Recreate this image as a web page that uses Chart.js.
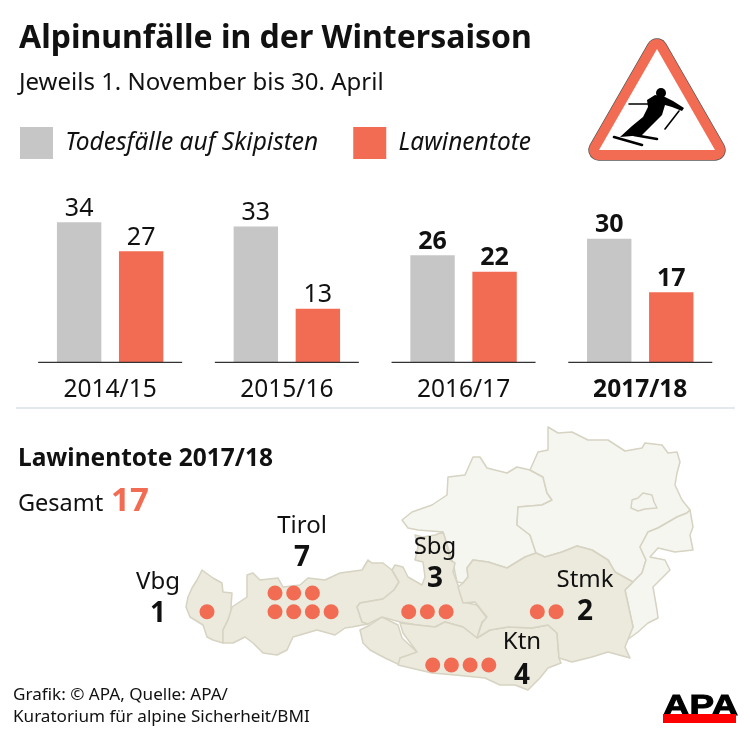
<!DOCTYPE html>
<html>
<head>
<meta charset="utf-8">
<title>Alpinunfälle</title>
<script src="https://cdn.jsdelivr.net/npm/chart.js@4"></script>
<style>
  html, body { margin: 0; padding: 0; background: #fff; }
  #page { position: relative; width: 750px; height: 736px; overflow: hidden; }
  canvas { position: absolute; left: 0; }
  #barCanvas { top: 0; }
  #mapCanvas { top: 410px; }
</style>
</head>
<body>
<div id="page">
  <canvas id="barCanvas" width="750" height="410"></canvas>
  <canvas id="mapCanvas" width="750" height="326"></canvas>
</div>
<script>
const seasons = ["2014/15", "2015/16", "2016/17", "2017/18"];
const pisteDeaths = [34, 33, 26, 30];
const avalancheDeaths = [27, 13, 22, 17];

const regions = ["Vbg", "Tirol", "Sbg", "Stmk", "Ktn"];
const regionDeaths = [1, 7, 3, 2, 4];
const totalDeaths = 17;

const FONT = '"Noto Sans", sans-serif';
const RED = "#f26c53";
const GRAY = "#c6c6c6";
const INK = "#111111";

// map drawing, in page pixels (the map chart's scales run over page coordinates)
const regionLayout = {
  Vbg: { dot: [207, 611.7], name: [158, 589], num: [158, 622] },
  Tirol: { dot: [275, 611.7], name: [302, 533], num: [302, 566] },
  Sbg: { dot: [408.7, 611.7], name: [435, 554], num: [435, 587] },
  Stmk: { dot: [537.3, 611.7], name: [585, 587], num: [585, 620] },
  Ktn: { dot: [432.7, 665], name: [522, 649], num: [522, 684] },
};
const dotStep = 18.7;

const shapesLight = [
  // Oberoesterreich
  [[402,520],[412,512],[432,505],[447,495],[448,477],[465,475],[473,457],[480,457],[487,468],[507,473],[517,467],[530,470],[543,477],[547,493],[552,500],[542,505],[518,507],[517,525],[530,535],[536,553],[525,557],[507,568],[488,562],[473,560],[467,568],[468,577],[463,583],[457,582],[453,563],[443,532],[418,530],[408,528]],
  // Niederoesterreich
  [[530,470],[538,452],[548,450],[548,427],[558,433],[572,432],[588,440],[608,440],[625,451],[642,448],[645,443],[662,445],[668,453],[677,452],[680,462],[677,473],[675,485],[682,500],[690,510],[687,513],[677,517],[658,528],[648,532],[640,547],[646,560],[642,573],[633,582],[615,572],[608,560],[592,550],[577,546],[562,552],[545,557],[536,553],[530,535],[517,525],[518,507],[542,505],[552,500],[547,493],[543,477]],
  // Wien
  [[632,500],[638,498],[643,493],[652,495],[654,502],[657,508],[645,509],[638,511],[631,508]],
  // Burgenland
  [[690,510],[693,527],[690,535],[693,550],[675,552],[658,548],[650,557],[665,560],[670,570],[662,578],[653,587],[657,610],[658,618],[648,623],[638,632],[627,640],[633,627],[625,590],[633,582],[642,573],[646,560],[640,547],[648,532],[658,528],[677,517],[687,513]],
];
const shapesDark = [
  // Vorarlberg
  [[202,570],[213,578],[222,583],[223,592],[232,593],[231,607],[232,612],[228,620],[223,630],[223,643],[213,640],[207,637],[203,625],[190,617],[186,607],[188,597],[192,588],[197,580]],
  // Tirol
  [[232,607],[247,597],[247,575],[253,573],[260,580],[278,578],[283,587],[300,585],[308,578],[325,580],[340,573],[362,570],[368,560],[372,563],[383,563],[392,570],[399,582],[394,590],[383,599],[360,603],[357,607],[362,622],[368,624],[352,627],[345,628],[335,635],[317,630],[293,637],[287,650],[277,655],[263,653],[253,643],[245,637],[233,643],[223,643],[223,630],[228,620]],
  // Osttirol
  [[360,630],[370,625],[382,617],[398,625],[402,638],[418,653],[400,658],[400,665],[385,658],[370,650],[363,643]],
  // Salzburg
  [[392,570],[395,565],[403,567],[408,577],[422,585],[425,577],[423,562],[415,560],[418,547],[415,535],[423,537],[435,535],[443,532],[445,538],[450,560],[455,563],[453,572],[458,585],[463,602],[477,605],[487,618],[482,622],[477,638],[463,627],[445,622],[435,627],[417,625],[400,622],[382,617],[368,624],[362,622],[357,607],[360,603],[383,599],[394,590],[399,582]],
  // Kaernten
  [[477,638],[490,630],[508,627],[532,628],[548,625],[557,633],[559,658],[561,663],[548,668],[540,678],[528,690],[515,685],[500,685],[485,678],[455,675],[432,673],[398,665],[400,658],[417,652],[403,633],[400,623],[417,625],[435,627],[445,622],[463,627]],
  // Steiermark
  [[458,587],[463,603],[475,602],[487,617],[482,623],[477,638],[490,630],[508,627],[532,628],[548,625],[557,633],[559,658],[572,662],[592,657],[608,652],[630,658],[625,647],[633,627],[625,590],[633,582],[615,572],[608,560],[592,550],[577,546],[562,552],[545,557],[536,553],[525,557],[507,568],[488,562],[473,560],[467,568],[468,577],[463,583]],
];

// one dot per death, four to a row, filling upwards
function buildDots() {
  const dots = [];
  regions.forEach((name, r) => {
    const anchor = regionLayout[name].dot;
    for (let i = 0; i < regionDeaths[r]; i++) {
      dots.push({ x: anchor[0] + (i % 4) * dotStep, y: anchor[1] - Math.floor(i / 4) * dotStep });
    }
  });
  return dots;
}

function polygon(ctx, pts) {
  ctx.beginPath();
  pts.forEach((p, i) => (i ? ctx.lineTo(p[0], p[1]) : ctx.moveTo(p[0], p[1])));
  ctx.closePath();
}

function drawSign(ctx) {
  ctx.save();
  ctx.lineJoin = "round";
  const tri = [[657, 49], [599, 150], [715, 150]];
  polygon(ctx, tri);
  ctx.strokeStyle = "#555";
  ctx.lineWidth = 21.5;
  ctx.stroke();
  ctx.strokeStyle = RED;
  ctx.lineWidth = 20;
  ctx.stroke();
  ctx.fillStyle = "#fff";
  ctx.fill();
  // skier
  ctx.fillStyle = "#000";
  ctx.strokeStyle = "#000";
  ctx.beginPath();
  ctx.arc(661, 93, 5, 0, Math.PI * 2);
  ctx.fill();
  polygon(ctx, [[647,100],[655,95],[665,97],[673,101],[684,108],[682,111],[672,107],[665,105],[662,115],[652,125],[642,135],[632,136],[620,137],[632,126],[643,117],[648,107]]);
  ctx.fill();
  ctx.lineCap = "round";
  ctx.lineWidth = 2.6;
  ctx.beginPath();
  ctx.moveTo(614, 137); ctx.lineTo(642, 145);
  ctx.moveTo(634, 135); ctx.lineTo(657, 139);
  ctx.stroke();
  ctx.lineWidth = 1.6;
  ctx.beginPath();
  ctx.moveTo(629, 104); ctx.lineTo(648, 104);
  ctx.moveTo(679, 111); ctx.lineTo(665, 129);
  ctx.stroke();
  ctx.restore();
}

const barDecor = {
  id: "barDecor",
  afterLayout(chart) {
    // legend sits under the subtitle, pulled left to the page margin
    const pad = chart.options.plugins.legend.labels.padding;
    chart.legend.left = 20 - pad;
    chart.legend.top = 127 - pad;
  },
  afterDatasetsDraw(chart) {
    const { ctx, scales } = chart;
    const base = scales.y.getPixelForValue(0);
    ctx.save();
    // baseline under each group
    ctx.strokeStyle = "#333";
    ctx.lineWidth = 1.3;
    seasons.forEach((s, i) => {
      const cx = scales.x.getPixelForValue(i);
      ctx.beginPath();
      ctx.moveTo(cx - 72, base);
      ctx.lineTo(cx + 72, base);
      ctx.stroke();
    });
    // value labels, last two seasons are set bold
    ctx.fillStyle = INK;
    ctx.textAlign = "center";
    ctx.textBaseline = "alphabetic";
    chart.data.datasets.forEach((ds, d) => {
      chart.getDatasetMeta(d).data.forEach((bar, i) => {
        ctx.font = (i >= 2 ? "bold " : "") + "25px " + FONT;
        ctx.fillText(String(ds.data[i]), bar.x, bar.y - 6.5);
      });
    });
    // separator above the map
    ctx.strokeStyle = "#e3eaee";
    ctx.lineWidth = 2;
    ctx.beginPath();
    ctx.moveTo(16, 408);
    ctx.lineTo(735, 408);
    ctx.stroke();
    drawSign(ctx);
    ctx.restore();
  },
};

new Chart(document.getElementById("barCanvas"), {
  type: "bar",
  data: {
    labels: seasons,
    datasets: [
      { label: "Todesfälle auf Skipisten", data: pisteDeaths, backgroundColor: GRAY, borderWidth: 0 },
      { label: "Lawinentote", data: avalancheDeaths, backgroundColor: RED, borderWidth: 0 },
    ],
  },
  options: {
    responsive: false,
    animation: false,
    categoryPercentage: 0.702,
    barPercentage: 0.716,
    layout: { padding: { top: 20, left: 19, right: 21.4, bottom: 0 } },
    plugins: {
      title: {
        display: true,
        text: "Alpinunfälle in der Wintersaison",
        align: "start",
        color: INK,
        font: { family: FONT, size: 32, weight: "bold" },
        padding: { top: 0, bottom: 0 },
      },
      subtitle: {
        display: true,
        text: "Jeweils 1. November bis 30. April",
        align: "start",
        color: INK,
        font: { family: FONT, size: 24 },
        padding: { top: 10, bottom: 0 },
      },
      legend: {
        display: true,
        position: "top",
        align: "start",
        labels: {
          boxWidth: 33,
          boxHeight: 32,
          padding: 35,
          color: INK,
          font: { family: FONT, size: 24.5, style: "italic" },
        },
      },
      tooltip: { enabled: false },
    },
    scales: {
      x: {
        grid: { display: false, drawTicks: false },
        border: { display: false },
        ticks: {
          padding: 13,
          color: INK,
          maxRotation: 0,
          font: (c) => ({ family: FONT, size: 24.5, weight: c.index === 3 ? "bold" : "normal" }),
        },
        afterFit(s) { s.height = 47.7; },
      },
      y: {
        min: 0,
        max: 45.7,
        grid: { display: false },
        border: { display: false },
        ticks: { display: false },
        afterFit(s) { s.width = 2.8; },
      },
    },
  },
  plugins: [barDecor],
});

function label(ctx, text, x, y, font, color, align) {
  ctx.font = font;
  ctx.fillStyle = color || INK;
  ctx.textAlign = align || "left";
  ctx.textBaseline = "alphabetic";
  ctx.fillText(text, x, y);
}

const mapDecor = {
  id: "mapDecor",
  beforeDatasetsDraw(chart) {
    const { ctx, scales } = chart;
    const toPx = (pts) => pts.map((p) => [scales.x.getPixelForValue(p[0]), scales.y.getPixelForValue(p[1])]);
    ctx.save();
    ctx.lineJoin = "round";
    ctx.lineWidth = 1.5;
    ctx.strokeStyle = "#d6d3c2";
    ctx.fillStyle = "#f5f6f0";
    shapesLight.forEach((s) => { polygon(ctx, toPx(s)); ctx.fill(); ctx.stroke(); });
    ctx.fillStyle = "#ece9dd";
    shapesDark.forEach((s) => { polygon(ctx, toPx(s)); ctx.fill(); ctx.stroke(); });
    ctx.restore();
  },
  afterDatasetsDraw(chart) {
    const { ctx, scales } = chart;
    const px = (v) => scales.x.getPixelForValue(v);
    const py = (v) => scales.y.getPixelForValue(v);
    ctx.save();
    label(ctx, "Lawinentote 2017/18", px(18), py(466), "bold 24.5px " + FONT);
    label(ctx, "Gesamt", px(18), py(511), "23.5px " + FONT);
    label(ctx, String(totalDeaths), px(111), py(511), "bold 33px " + FONT, RED);
    regions.forEach((name, r) => {
      const l = regionLayout[name];
      label(ctx, name, px(l.name[0]), py(l.name[1]), "24px " + FONT, INK, "center");
      label(ctx, String(regionDeaths[r]), px(l.num[0]), py(l.num[1]), "bold 28px " + FONT, INK, "center");
    });
    label(ctx, "Grafik: © APA, Quelle: APA/", px(13), py(700), "17.1px " + FONT);
    label(ctx, "Kuratorium für alpine Sicherheit/BMI", px(13), py(722), "17.1px " + FONT);
    // APA logo
    ctx.fillStyle = "#000";
    ctx.strokeStyle = "#000";
    ctx.save();
    ctx.translate(px(663), py(714.5));
    ctx.scale(1.27, 1);
    ctx.font = 'bold 29px "Liberation Sans", sans-serif';
    ctx.textAlign = "left";
    ctx.fillText("APA", 0, 0);
    ctx.lineWidth = 1;
    ctx.strokeText("APA", 0, 0);
    ctx.restore();
    ctx.fillStyle = "#ff0000";
    ctx.fillRect(px(663), py(714), 73, 9);
    ctx.restore();
  },
};

new Chart(document.getElementById("mapCanvas"), {
  type: "scatter",
  data: {
    datasets: [
      { label: "Lawinentote 2017/18", data: buildDots(), pointRadius: 7.5, pointBackgroundColor: RED, pointBorderWidth: 0 },
    ],
  },
  options: {
    responsive: false,
    animation: false,
    layout: { padding: 0, autoPadding: false },
    plugins: { legend: { display: false }, tooltip: { enabled: false } },
    scales: {
      x: { type: "linear", min: 0, max: 750, display: false },
      y: { type: "linear", min: 410, max: 736, reverse: true, display: false },
    },
  },
  plugins: [mapDecor],
});
</script>
</body>
</html>
